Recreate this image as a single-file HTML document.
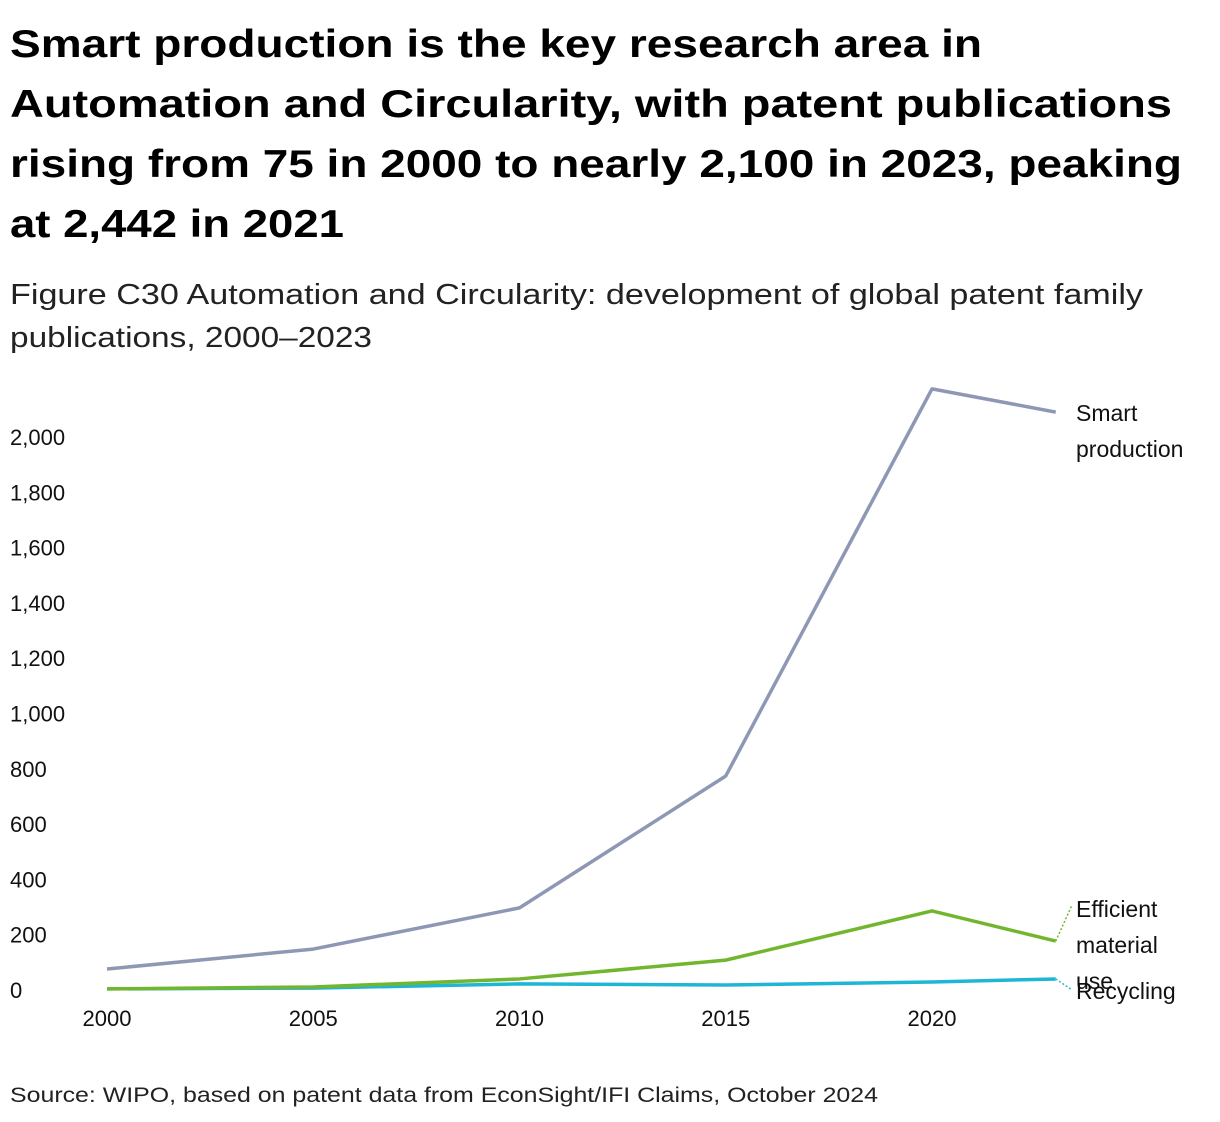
<!DOCTYPE html>
<html><head><meta charset="utf-8"><style>
html,body{margin:0;padding:0;background:#fff;}
svg{display:block;font-family:"Liberation Sans",sans-serif;}
</style></head><body>
<svg id="chart" width="1220" height="1122" viewBox="0 0 1220 1122">
<g font-weight="bold" font-size="39" fill="#000">
<text x="10" y="57" textLength="972" lengthAdjust="spacingAndGlyphs">Smart production is the key research area in</text>
<text x="10" y="117" textLength="1162" lengthAdjust="spacingAndGlyphs">Automation and Circularity, with patent publications</text>
<text x="10" y="177" textLength="1172" lengthAdjust="spacingAndGlyphs">rising from 75 in 2000 to nearly 2,100 in 2023, peaking</text>
<text x="10" y="237" textLength="334" lengthAdjust="spacingAndGlyphs">at 2,442 in 2021</text>
</g>
<g font-size="29" fill="#222">
<text x="10" y="304" textLength="1133" lengthAdjust="spacingAndGlyphs">Figure C30 Automation and Circularity: development of global patent family</text>
<text x="10" y="347" textLength="362" lengthAdjust="spacingAndGlyphs">publications, 2000–2023</text>
</g>
<g id="yaxis"></g>
<g id="xaxis"></g>
<g id="series"></g>
<g id="labels" font-size="23" fill="#111"></g>
<text x="10" y="1102" font-size="21" fill="#222" textLength="868" lengthAdjust="spacingAndGlyphs">Source: WIPO, based on patent data from EconSight/IFI Claims, October 2024</text>
</svg>
<script>
const years = [2000, 2005, 2010, 2015, 2020, 2023];
const smartProduction = [76, 148, 297, 774, 2174, 2090];
const efficientMaterialUse = [4, 11, 40, 108, 286, 177];
const recycling = [4, 7, 22, 18, 29, 40];
const yTicks = [0, 200, 400, 600, 800, 1000, 1200, 1400, 1600, 1800, 2000];
const xTicks = [2000, 2005, 2010, 2015, 2020];

const NS = "http://www.w3.org/2000/svg";
const x = v => 107 + (v - 2000) * 41.25;
const y = v => 990 - v * 0.2765;
function mk(tag, attrs, parent, txt){
  const e = document.createElementNS(NS, tag);
  for (const k in attrs) e.setAttribute(k, attrs[k]);
  if (txt !== undefined) e.textContent = txt;
  parent.appendChild(e); return e;
}
const ya = document.getElementById('yaxis');
yTicks.forEach(t => {
  const el = mk('text', {x: 10, y: y(t) + 8, 'font-size': 22, fill: '#111'}, ya, t.toLocaleString('en-US'));
  
  
});
const xa = document.getElementById('xaxis');
xTicks.forEach(t => {
  const el = mk('text', {x: x(t), y: 1026, 'font-size': 22, fill: '#111', 'text-anchor': 'middle'}, xa, String(t));
  
  
});
const sg = document.getElementById('series');
const defs = [
  [recycling, '#1fb6d6', 'recycling-line'],
  [efficientMaterialUse, '#72b62e', 'efficient-material-use-line'],
  [smartProduction, '#8e98b4', 'smart-production-line']
];
defs.forEach(([vals, col, name]) => {
  const pts = vals.map((v, i) => x(years[i]) + ',' + y(v)).join(' ');
  const pl = mk('polyline', {points: pts, fill: 'none', stroke: col, 'stroke-width': 3.5, 'stroke-linejoin': 'round'}, sg);
  
  
});
const lb = document.getElementById('labels');
const last = years.length - 1;
const c1 = mk('line', {x1: x(years[last]), y1: y(efficientMaterialUse[last]), x2: 1072, y2: 905, stroke: '#72b62e', 'stroke-width': 1.5, 'stroke-dasharray': '2,2'}, lb);


const c2 = mk('line', {x1: x(years[last]), y1: y(recycling[last]), x2: 1072, y2: 990, stroke: '#1fb6d6', 'stroke-width': 1.5, 'stroke-dasharray': '2,2'}, lb);


[['Smart', 421, 'smart-production-label'], ['production', 457, 'smart-production-label'],
 ['Efficient', 917, 'efficient-material-use-label'], ['material', 953, 'efficient-material-use-label'], ['use', 989, 'efficient-material-use-label'],
 ['Recycling', 999, 'recycling-label']].forEach(([t, yy, n]) => {
  const el = mk('text', {x: 1076, y: yy}, lb, t);
  
  
});
</script>
</body></html>
